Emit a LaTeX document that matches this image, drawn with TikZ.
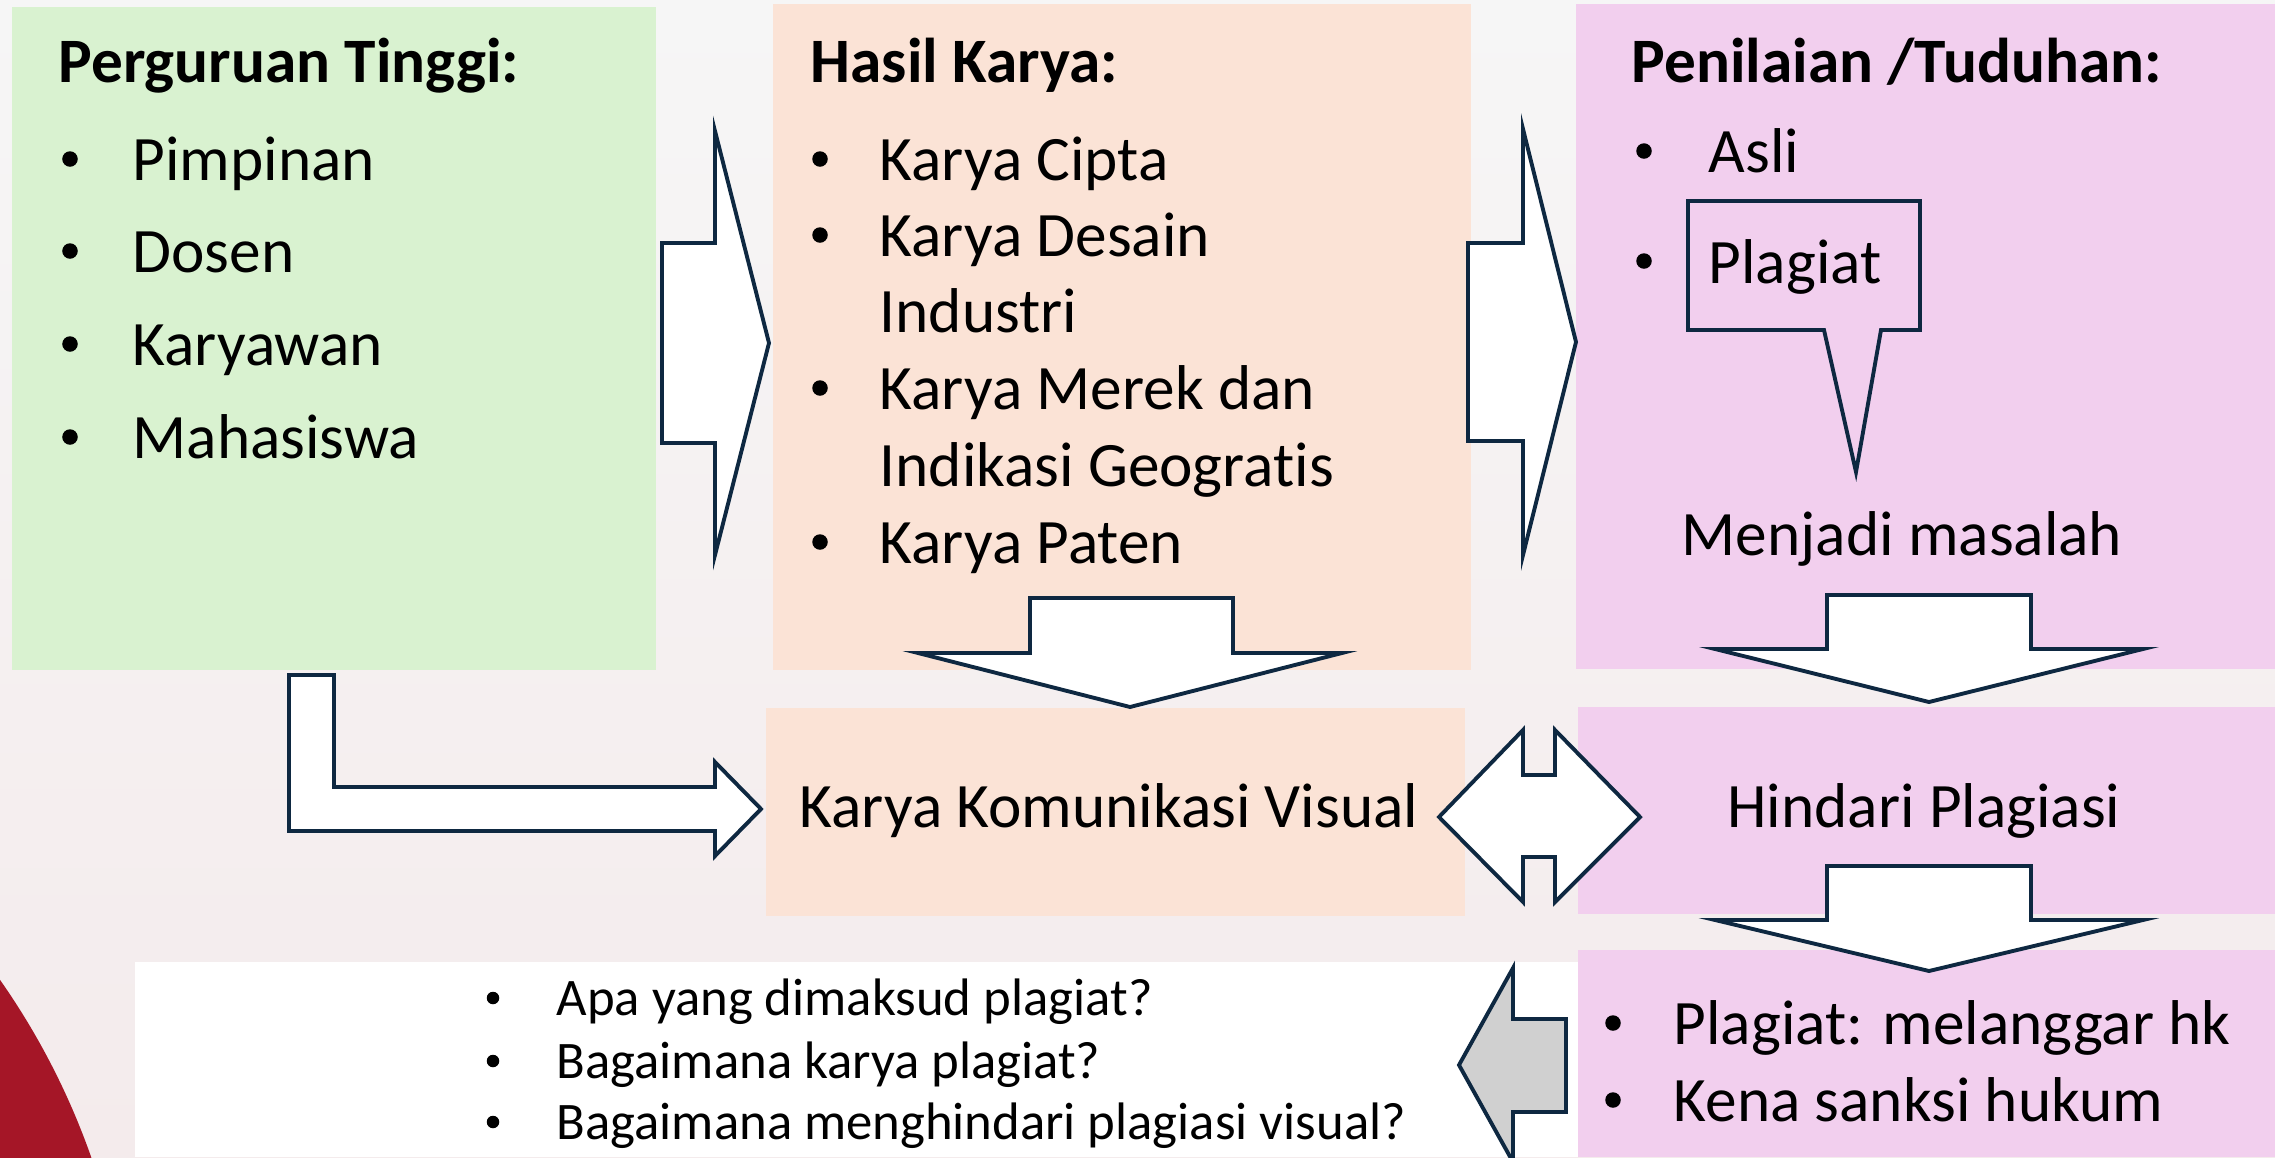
\documentclass[tikz,border=0pt]{standalone}
\usepackage{fontspec}
\setmainfont{Carlito}[Ligatures=NoCommon]
\definecolor{bgtop}{HTML}{F6F6F6}
\definecolor{bgbot}{HTML}{F4EBEC}
\definecolor{grnbox}{HTML}{D9F2D0}
\definecolor{pchbox}{HTML}{FBE3D6}
\definecolor{pnkbox}{HTML}{F2CFEE}
\definecolor{edgeblue}{HTML}{0E2841}
\definecolor{arrgray}{HTML}{D0D0D0}
\definecolor{redarc}{HTML}{A51627}

\begin{document}
\begin{tikzpicture}[x=0.01cm,y=-0.01cm,
    box/.style={anchor=north west,inner sep=0pt,outer sep=0pt},
    blockarr/.style={draw=edgeblue,line width=1.1pt,fill=white},
    txt/.style={anchor=base west,inner sep=0pt,font=\fontsize{18}{22}\selectfont},
    bul/.style={circle,fill=black,inner sep=0pt,minimum size=0.155cm},
    sbul/.style={bul,minimum size=0.125cm},
    ttl/.style={txt,font=\fontsize{18}{22}\selectfont\bfseries},
    small/.style={txt,font=\fontsize{15}{18}\selectfont}]
  \clip (0,0) rectangle (2275,1157);
  \shade[top color=bgtop,bottom color=bgbot] (0,0) rectangle (2275,1157);
  \fill[redarc] (-600,1400) circle[radius=7.32cm];

  % boxes
  \node[box,fill=grnbox,minimum width=6.44cm,minimum height=6.63cm] (pt) at (12,7) {};
  \node[box,fill=pchbox,minimum width=6.98cm,minimum height=6.66cm] (hk) at (773,4) {};
  \node[box,fill=pnkbox,minimum width=6.99cm,minimum height=6.65cm] (pn) at (1576,4) {};
  \node[box,fill=pchbox,minimum width=6.99cm,minimum height=2.08cm] (kv) at (766,708) {};
  \node[box,fill=pnkbox,minimum width=6.97cm,minimum height=2.07cm] (hp) at (1578,707) {};
  \node[box,fill=white,minimum width=14.43cm,minimum height=1.95cm] (tanya) at (135,962) {};
  \node[box,fill=pnkbox,minimum width=6.97cm,minimum height=2.07cm] (sk) at (1578,950) {};

  % block arrows
  \draw[blockarr] (662,243) -- (715,243) -- (715,131) -- (769,343) -- (715,555) -- (715,443) -- (662,443) -- cycle;
  \draw[blockarr] (1468,243) -- (1523,243) -- (1523,129) -- (1576,342) -- (1523,555) -- (1523,441) -- (1468,441) -- cycle;
  \draw[blockarr] (1030,598) -- (1233,598) -- (1233,653) -- (1342,653) -- (1130,707) -- (918,653) -- (1030,653) -- cycle;
  \draw[blockarr] (1827,595) -- (2031,595) -- (2031,649) -- (2143,649) -- (1929,702) -- (1715,649) -- (1827,649) -- cycle;
  \draw[blockarr] (1827,866) -- (2031,866) -- (2031,920) -- (2143,920) -- (1929,971) -- (1715,920) -- (1827,920) -- cycle;
  \draw[blockarr] (1439,817) -- (1523,730) -- (1523,775) -- (1555,775) -- (1555,730) -- (1640,817)
    -- (1555,902) -- (1555,857) -- (1523,857) -- (1523,902) -- cycle;
  \draw[blockarr] (289,675) -- (334,675) -- (334,787) -- (715,787) -- (715,762) -- (761,809)
    -- (715,856) -- (715,831) -- (289,831) -- cycle;
  \draw[blockarr,fill=arrgray] (1459,1065) -- (1513,968) -- (1513,1019) -- (1566,1019) -- (1566,1112)
    -- (1513,1112) -- (1513,1162) -- cycle;
  % callout round Plagiat
  \draw[draw=edgeblue,line width=1.1pt] (1688,201) -- (1920,201) -- (1920,330) -- (1881,330)
    -- (1856,472) -- (1824,330) -- (1688,330) -- cycle;

  % Perguruan Tinggi
  \node[ttl] (pt-t) at (58,82) {Perguruan Tinggi:};
  \foreach \y/\t [count=\i] in {180/Pimpinan,272/Dosen,365/Karyawan,458/Mahasiswa} {
    \node[bul] (pt-b\i) at (70,{\y-21}) {};
    \node[txt] (pt-\i) at (132,\y) {\t};
  }

  % Hasil Karya
  \node[ttl] (hk-t) at (810,82) {Hasil Karya:};
  \foreach \y/\t [count=\i] in {180/Karya Cipta,256/Karya Desain,332/Industri,409/Karya Merek dan,486/Indikasi Geogratis,563/Karya Paten}
    \node[txt] (hk-\i) at (879,\y) {\t};
  \foreach \y [count=\i] in {180,256,409,563}
    \node[bul] (hk-b\i) at (820,{\y-21}) {};

  % Penilaian
  \node[ttl] (pn-t) at (1631,82) {Penilaian /Tuduhan:};
  \node[bul] (pn-b1) at (1644,151) {};
  \node[txt] (asli) at (1708,172) {Asli};
  \node[bul] (pn-b2) at (1644,261) {};
  \node[txt] (plg) at (1708,283) {Plagiat};
  \node[txt,anchor=base] (mm) at (1902,555) {Menjadi masalah};

  \node[txt,anchor=base] (kv-t) at (1109,827) {Karya Komunikasi Visual};
  \node[txt,anchor=base] (hp-t) at (1924,827) {Hindari Plagiasi};

  % sanksi
  \node[bul] (sk-b1) at (1613,1023) {};
  \node[txt] (sk-1) at (1673,1044) {Plagiat: melanggar hk};
  \node[bul] (sk-b2) at (1613,1100) {};
  \node[txt] (sk-2) at (1673,1121) {Kena sanksi hukum};

  % pertanyaan
  \foreach \y/\t [count=\i] in {1015/Apa yang dimaksud plagiat?,1078/Bagaimana karya plagiat?,1139/Bagaimana menghindari plagiasi visual?} {
    \node[sbul] (tq-b\i) at (493,{\y-17}) {};
    \node[small] (tq-\i) at (556,\y) {\t};
  }
\end{tikzpicture}
\end{document}
